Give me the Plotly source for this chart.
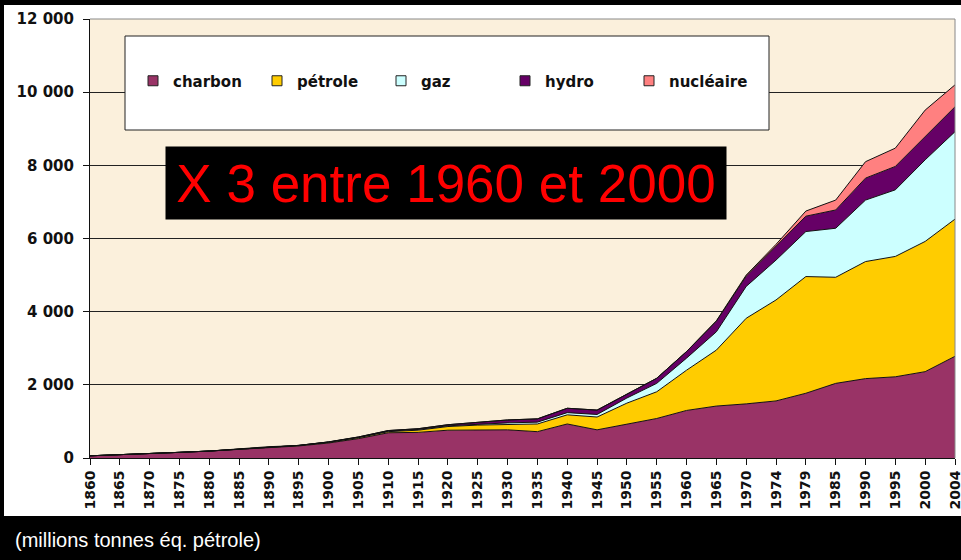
import plotly.graph_objects as go

years = ["1860", "1865", "1870", "1875", "1880", "1885", "1890", "1895", "1900", "1905",
         "1910", "1915", "1920", "1925", "1930", "1935", "1940", "1945", "1950", "1955",
         "1960", "1965", "1970", "1974", "1979", "1985", "1990", "1995", "2000", "2004"]

charbon = [60, 85, 125, 155, 190, 240, 300, 330, 410, 530,
           690, 700, 760, 770, 770, 720, 930, 770, 930, 1080,
           1300, 1420, 1480, 1560, 1770, 2040, 2170, 2220, 2360, 2780]
petrole = [0, 0, 0, 0, 0, 5, 10, 10, 20, 25,
           30, 60, 100, 130, 150, 210, 250, 350, 570, 730,
           1100, 1530, 2340, 2760, 3190, 2900, 3200, 3290, 3560, 3750]
gaz = [0, 0, 0, 0, 0, 0, 0, 5, 5, 10,
       15, 20, 20, 30, 40, 50, 60, 70, 140, 230,
       330, 500, 870, 1090, 1230, 1340, 1680, 1820, 2230, 2390]
hydro = [0, 0, 0, 0, 0, 0, 0, 0, 5, 10,
         15, 20, 30, 40, 80, 90, 120, 120, 100, 140,
         180, 290, 280, 370, 420, 500, 600, 640, 630, 680]
nucleaire = [0, 0, 0, 0, 0, 0, 0, 0, 0, 0,
             0, 0, 0, 0, 0, 0, 0, 0, 0, 0,
             0, 10, 30, 60, 140, 270, 450, 500, 730, 600]

series_names = ["charbon", "pétrole", "gaz", "hydro", "nucléaire"]
series_values = [charbon, petrole, gaz, hydro, nucleaire]
series_colors = ["#993366", "#FFCC00", "#CCFFFF", "#660066", "#FF8080"]

y_ticks = [0, 2000, 4000, 6000, 8000, 10000, 12000]

title_note = "X 3 entre 1960 et 2000"
unit_note = "(millions tonnes éq. pétrole)"

# plot area geometry in pixels (for converting overlay positions)
L, R, T, B = 90, 955, 19, 458
W, H = 961, 560
PW, PH = R - L, B - T


def px(xp):
    return (xp - L) / PW


def py(yp):
    return (B - yp) / PH


fig = go.Figure()
for name, vals, col in zip(series_names, series_values, series_colors):
    fig.add_trace(go.Scatter(
        x=years, y=vals, name=name, stackgroup="one", mode="lines",
        line=dict(color="#111111", width=1), fillcolor=col, showlegend=False,
        hoverinfo="x+y+name"))
for name, col in zip(series_names, series_colors):
    fig.add_trace(go.Scatter(
        x=[None], y=[None], name=name, mode="markers",
        marker=dict(symbol="square", size=10, color=col,
                    line=dict(color="#222222", width=1)),
        showlegend=True))

tick_font = dict(family="DejaVu Sans", size=14, color="#111111", weight="bold")

fig.update_layout(
    width=W, height=H,
    margin=dict(l=L, r=W - R, t=T, b=H - B, autoexpand=False),
    paper_bgcolor="white",
    plot_bgcolor="#FBF0DC",
    separators=", ",
    showlegend=True,
    legend=dict(
        orientation="h", x=px(133), y=py(81), xanchor="left", yanchor="middle",
        traceorder="normal",
        bgcolor="rgba(0,0,0,0)", borderwidth=0,
        entrywidth=79, entrywidthmode="pixels",
        font=dict(family="DejaVu Sans", size=15, color="#111111", weight="bold"),
    ),
    xaxis=dict(
        type="category", range=[0, len(years) - 1], automargin=False,
        tickangle=-90, ticks="outside", ticklen=6, tickcolor="#111111",
        showline=True, linecolor="#111111", linewidth=1,
        showgrid=False, tickfont=tick_font,
    ),
    yaxis=dict(
        range=[0, 12000], tickvals=y_ticks, tickformat=",d", automargin=False,
        ticks="outside", ticklen=6, tickcolor="#111111", ticklabelstandoff=6,
        showline=True, linecolor="#111111", linewidth=1,
        showgrid=True, gridcolor="#222222", gridwidth=1,
        zeroline=False, tickfont=dict(family="DejaVu Sans", size=15,
                                      color="#111111", weight="bold"),
    ),
)

shapes = [
    # top and right plot border
    dict(type="line", xref="paper", yref="paper", x0=0, x1=1, y0=1, y1=1,
         line=dict(color="#888888", width=1), layer="above"),
    dict(type="line", xref="paper", yref="paper", x0=1, x1=1, y0=0, y1=1,
         line=dict(color="#888888", width=1), layer="above"),
    # legend box
    dict(type="rect", xref="paper", yref="paper",
         x0=px(125), x1=px(769), y0=py(130), y1=py(36),
         fillcolor="white", line=dict(color="#222222", width=1), layer="above"),
    # black frame: top, left, bottom band
    dict(type="rect", xref="paper", yref="paper",
         x0=px(-5), x1=px(W + 5), y0=py(5), y1=py(-5),
         fillcolor="black", line=dict(width=0), layer="above"),
    dict(type="rect", xref="paper", yref="paper",
         x0=px(-5), x1=px(4), y0=py(520), y1=py(-5),
         fillcolor="black", line=dict(width=0), layer="above"),
    dict(type="rect", xref="paper", yref="paper",
         x0=px(-5), x1=px(W + 5), y0=py(H + 5), y1=py(516),
         fillcolor="black", line=dict(width=0), layer="above"),
]
fig.update_layout(shapes=shapes)

fig.add_annotation(
    text=title_note, xref="paper", yref="paper",
    x=px(446), y=py(183), xanchor="center", yanchor="middle",
    showarrow=False, bgcolor="black", borderpad=4,
    width=552, height=64,
    font=dict(family="Liberation Sans", size=53, color="#FF0000"),
)
fig.add_annotation(
    text=unit_note, xref="paper", yref="paper",
    x=px(13), y=py(540), xanchor="left", yanchor="middle",
    showarrow=False,
    font=dict(family="Liberation Sans", size=20, color="white"),
)

fig.write_html(
    "out.html",
    config={"displayModeBar": False},
    post_script="document.body.style.margin='0';document.body.style.overflow='hidden';",
)
